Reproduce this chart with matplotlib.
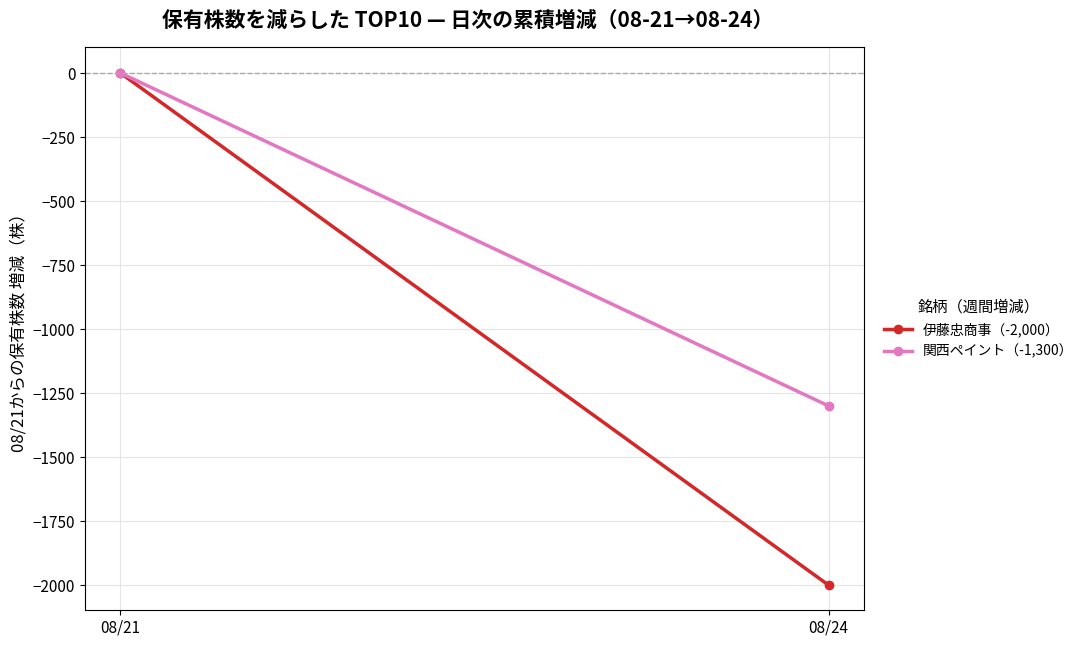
import matplotlib
matplotlib.use("Agg")
import matplotlib.pyplot as plt

plt.rcParams['font.family'] = ['Noto Sans CJK JP', 'DejaVu Sans']

dates = ["08/21", "08/24"]
names = ["伊藤忠商事（-2,000）", "関西ペイント（-1,300）"]
values = [[0, -2000], [0, -1300]]
colors = ["#d62728", "#e377c2"]

fig = plt.figure(figsize=(10.88, 6.49), dpi=100)
ax = fig.add_axes([85/1088, 1-610/649, (864-85)/1088, (610-47)/649])
x = list(range(len(dates)))
for n, v, c in zip(names, values, colors):
    ax.plot(x, v, color=c, lw=2.5, marker='o', ms=6, label=n)
ax.axhline(0, color='#aaaaaa', ls='--', lw=1)
ax.set_xticks(x)
ax.set_xticklabels(dates, fontsize=11)
ax.set_xlim(-0.05, 1.05)
ax.set_ylim(-2097, 101.6)
ax.set_yticks(range(-2000, 1, 250))
ax.tick_params(axis='y', labelsize=11)
ax.grid(True, color='#e5e5e5', lw=0.8)
ax.set_ylabel("08/21からの保有株数 増減（株）", fontsize=12)
fig.suptitle("保有株数を減らした TOP10 — 日次の累積増減（08-21→08-24）", fontsize=15, fontweight='bold', x=0.43, y=0.985)
leg = ax.legend(title="銘柄（週間増減）", loc='center left', bbox_to_anchor=(1.01, 0.5), frameon=False, fontsize=10, title_fontsize=11)
fig.savefig("out.png", dpi=100)
